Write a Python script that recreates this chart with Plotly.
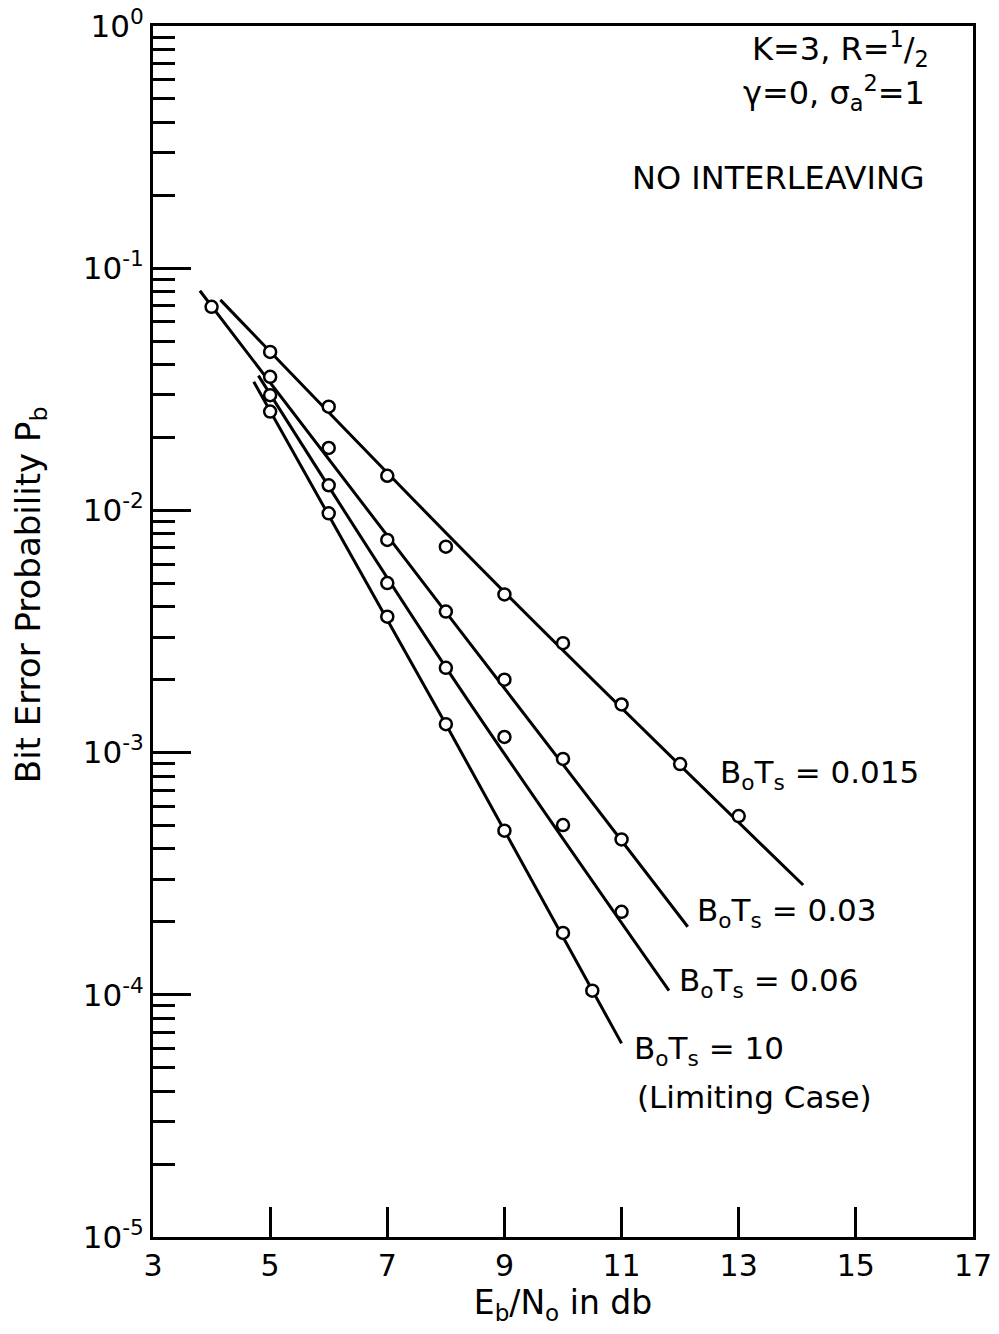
import plotly.graph_objects as go

# Measured points: Eb/No (dB) and bit error probability for each B0Ts
ebno_015 = [5, 6, 7, 8, 9, 10, 11, 12, 13]
pb_015 = [0.0451, 0.0268, 0.0139, 0.00708, 0.00450, 0.00283, 0.00158, 0.000897, 0.000547]

ebno_03 = [4, 5, 6, 7, 8, 9, 10, 11]
pb_03 = [0.0693, 0.0356, 0.0181, 0.00755, 0.00382, 0.00200, 0.000942, 0.000438]

ebno_06 = [5, 6, 7, 8, 9, 10, 11]
pb_06 = [0.0299, 0.0127, 0.00501, 0.00224, 0.00116, 0.000502, 0.000220]

ebno_10 = [5, 6, 7, 8, 9, 10, 10.5]
pb_10 = [0.0256, 0.00973, 0.00364, 0.00131, 0.000476, 0.000180, 0.000104]

# Fitted curves through the points (knots of each drawn line)
fit_x_015 = [4.15, 9.0, 14.1]
fit_pb_015 = [0.074, 0.0046, 0.000284]

fit_x_03 = [3.8, 8.0, 12.13]
fit_pb_03 = [0.0807, 0.0038, 0.000191]

fit_x_06 = [4.8, 8.0, 11.81]
fit_pb_06 = [0.036, 0.00225, 0.000104]

fit_x_10 = [4.72, 8.0, 11.0]
fit_pb_10 = [0.034, 0.00131, 0.000063]

# Axis ticks
x_ticks = [3, 5, 7, 9, 11, 13, 15, 17]
y_exponents = [0, -1, -2, -3, -4, -5]

FONT = "DejaVu Sans"
INK = "black"

fig = go.Figure()

curves = [
    (fit_x_015, fit_pb_015, ebno_015, pb_015, "B<sub>o</sub>T<sub>s</sub> = 0.015"),
    (fit_x_03, fit_pb_03, ebno_03, pb_03, "B<sub>o</sub>T<sub>s</sub> = 0.03"),
    (fit_x_06, fit_pb_06, ebno_06, pb_06, "B<sub>o</sub>T<sub>s</sub> = 0.06"),
    (fit_x_10, fit_pb_10, ebno_10, pb_10, "B<sub>o</sub>T<sub>s</sub> = 10"),
]

for fx, fy, px, py, name in curves:
    fig.add_trace(go.Scatter(
        x=fx, y=fy, mode="lines", name=name, showlegend=False,
        line=dict(color=INK, width=3, shape="spline", smoothing=1.0),
        hoverinfo="skip",
    ))
for fx, fy, px, py, name in curves:
    fig.add_trace(go.Scatter(
        x=px, y=py, mode="markers", name=name, showlegend=False,
        marker=dict(symbol="circle", size=12, color="white",
                    line=dict(color=INK, width=2.5)),
    ))

# Curve labels
label_specs = [
    (12.64, -3.092, "B<sub>o</sub>T<sub>s</sub> = 0.015"),
    (12.25, -3.662, "B<sub>o</sub>T<sub>s</sub> = 0.03"),
    (11.94, -3.951, "B<sub>o</sub>T<sub>s</sub> = 0.06"),
    (11.17, -4.228, "B<sub>o</sub>T<sub>s</sub> = 10"),
    (11.23, -4.422, "(Limiting Case)"),
]
for lx, ly, txt in label_specs:
    fig.add_annotation(x=lx, y=ly, text=txt, showarrow=False,
                       xanchor="left", yanchor="middle",
                       font=dict(family=FONT, size=31, color=INK))

# Parameter block, top right
param_specs = [
    (16.28, -0.095, "K=3, R=<sup>1</sup>/<sub>2</sub>"),
    (16.22, -0.275, "γ=0, σ<sub>a</sub><sup>2</sup>=1"),
    (16.22, -0.628, "NO INTERLEAVING"),
]
for lx, ly, txt in param_specs:
    fig.add_annotation(x=lx, y=ly, text=txt, showarrow=False,
                       xanchor="right", yanchor="middle",
                       font=dict(family=FONT, size=32, color=INK))

# Vertical axis title, placed beside the tick labels
fig.add_annotation(xref="paper", yref="paper", x=-0.150, y=0.530,
                   text="Bit Error Probability P<sub>b</sub>", textangle=-90,
                   showarrow=False, xanchor="center", yanchor="middle",
                   font=dict(family=FONT, size=34, color=INK))

minor_vals = [k * 10.0 ** e for e in range(-5, 0) for k in range(2, 10)]

fig.update_xaxes(
    range=[3, 17], tickvals=x_ticks, ticktext=[str(v) for v in x_ticks],
    ticks="inside", ticklen=30, tickwidth=2.5, tickcolor=INK,
    showline=True, linecolor=INK, linewidth=3, mirror=True,
    showgrid=False, zeroline=False,
    tickfont=dict(family=FONT, size=30, color=INK),
    title=dict(text="E<sub>b</sub>/N<sub>o</sub> in db",
               font=dict(family=FONT, size=33, color=INK), standoff=8),
)
fig.update_yaxes(
    type="log", range=[-5, 0],
    tickvals=[10.0 ** e for e in y_exponents],
    ticktext=["10<sup>%d</sup>" % e for e in y_exponents],
    ticks="inside", ticklen=38, tickwidth=2.5, tickcolor=INK,
    minor=dict(tickvals=minor_vals, ticks="inside", ticklen=22,
               tickwidth=2.5, tickcolor=INK, showgrid=False),
    showline=True, linecolor=INK, linewidth=3, mirror=True,
    showgrid=False, zeroline=False,
    tickfont=dict(family=FONT, size=31, color=INK),
)

fig.update_layout(
    width=999, height=1334,
    margin=dict(l=153, r=26, t=26, b=97, autoexpand=False),
    paper_bgcolor="white", plot_bgcolor="white",
    showlegend=False,
)

fig.write_html("out.html")
